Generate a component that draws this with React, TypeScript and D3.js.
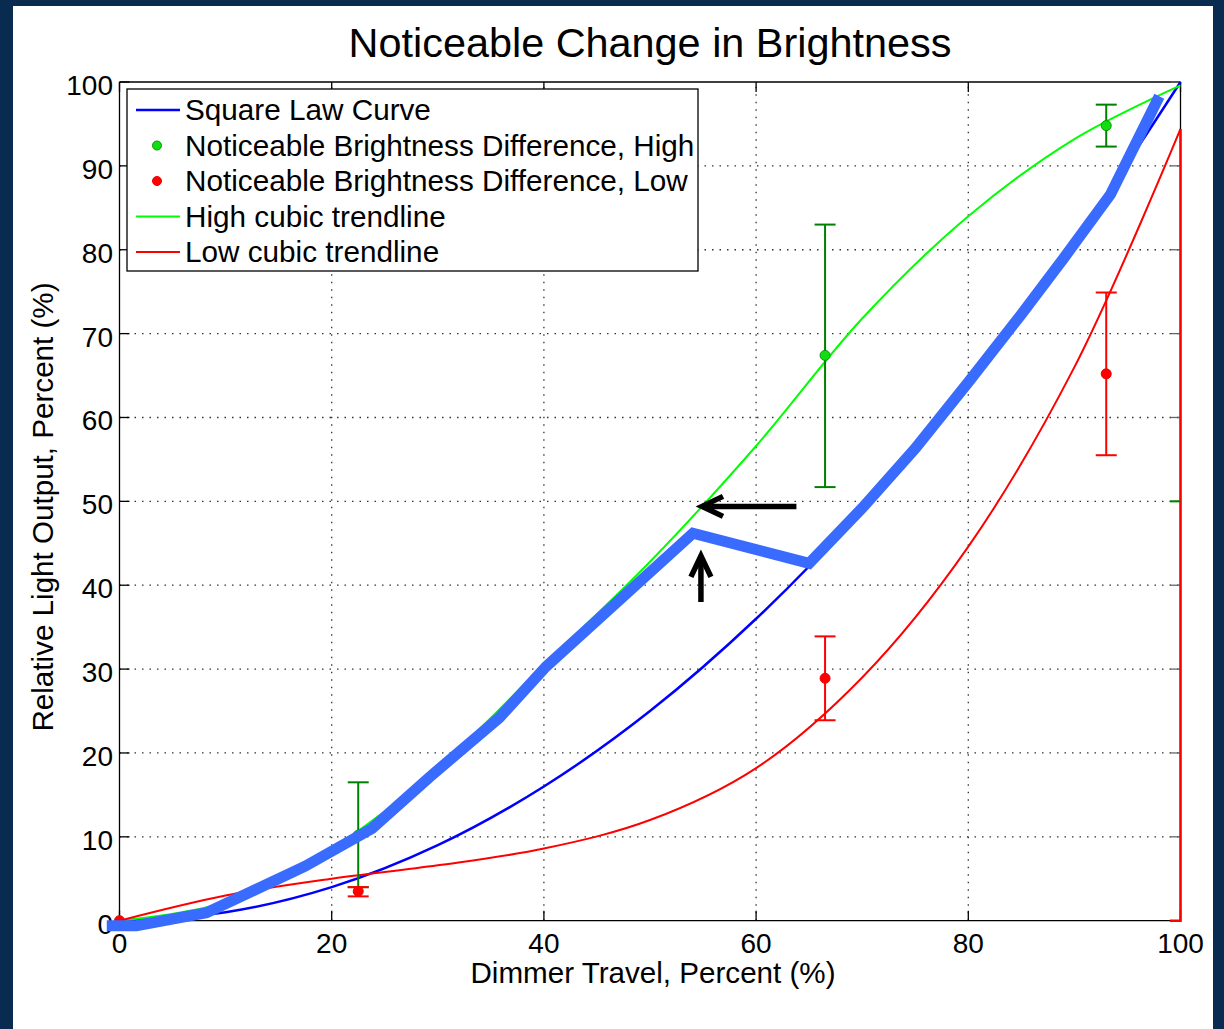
import React from "react";
import * as d3 from "d3";

const W = 1224;
const H = 1029;

const titleText = "Noticeable Change in Brightness";
const xLabel = "Dimmer Travel, Percent (%)";
const yLabel = "Relative Light Output, Percent (%)";

const xTicks = [0, 20, 40, 60, 80, 100];
const yTicks = [0, 10, 20, 30, 40, 50, 60, 70, 80, 90, 100];

const curveX = [0, 10, 20, 30, 40, 50, 60, 70, 80, 90, 100];
const squareLaw = [0, 1, 4, 9, 16, 25, 36, 49, 64, 81, 100];
const highTrend = [0, 2.2, 8.6, 18.2, 30.5, 42.8, 56.6, 71.8, 84.0, 93.2, 99.6];
const lowTrend = [0, 3.0, 5.0, 6.6, 8.6, 12.0, 18.2, 29.0, 44.6, 66.0, 94.4];
const lowTailX = [100, 100, 99];
const lowTailY = [94.4, 0, 0];

const highX = [22.5, 66.5, 93.0];
const highY = [10.2, 67.4, 94.8];
const highLo = [4.0, 51.7, 92.3];
const highHi = [16.5, 83.0, 97.3];

const lowX = [0, 22.5, 66.5, 93.0];
const lowY = [0, 3.5, 28.9, 65.2];
const lowLo = [0, 2.9, 23.9, 55.5];
const lowHi = [0, 4.0, 33.9, 74.9];

const annotX = [-1.2, 1.6, 8.2, 17.5, 23.8, 29.2, 35.8, 40.2, 54.05, 65.0, 70.0, 75.0, 80.0, 85.0, 89.0, 93.4, 98.0];
const annotY = [-0.6, -0.6, 0.95, 6.5, 11.0, 17.1, 24.2, 30.3, 46.2, 42.6, 49.2, 56.3, 64.2, 72.3, 79.0, 86.6, 98.3];

const arrowHX = [63.8, 54.9];
const arrowHY = [49.4, 49.4];
const arrowVX = [54.8, 54.8];
const arrowVY = [38.0, 43.5];

const legendLabels = [
  "Square Law Curve",
  "Noticeable Brightness Difference, High",
  "Noticeable Brightness Difference, Low",
  "High cubic trendline",
  "Low cubic trendline",
];

const FONT = "'Liberation Sans', Arial, Helvetica, sans-serif";

export default function App() {
  const x = d3.scaleLinear().domain([0, 100]).range([119.5, 1180.5]);
  const y = d3.scaleLinear().domain([0, 100]).range([920.7, 82]);

  const smooth = d3
    .line<[number, number]>()
    .x((d) => x(d[0]))
    .y((d) => y(d[1]))
    .curve(d3.curveCatmullRom.alpha(0.5));
  const straight = d3
    .line<[number, number]>()
    .x((d) => x(d[0]))
    .y((d) => y(d[1]));

  const zip = (xs: number[], ys: number[]) => xs.map((v, i) => [v, ys[i]] as [number, number]);

  const x0 = x(0), x1 = x(100), y0 = y(0), y1 = y(100);

  const arrowHead = (xs: number[], ys: number[]) => {
    const tx = x(xs[1]), ty = y(ys[1]);
    const fx = x(xs[0]), fy = y(ys[0]);
    const ang = Math.atan2(ty - fy, tx - fx);
    const back = 21, half = 10;
    const bx = tx - back * Math.cos(ang), by = ty - back * Math.sin(ang);
    const px = -Math.sin(ang) * half, py = Math.cos(ang) * half;
    return `M${bx + px},${by + py}L${tx},${ty}L${bx - px},${by - py}`;
  };

  const capW = 10.5;
  const legendRowY = [110, 145.5, 181, 216.5, 252];

  return (
    <svg
      width={W}
      height={H}
      style={{ position: "absolute", left: 0, top: 0, fontFamily: FONT }}
    >
      <rect x={0} y={0} width={W} height={H} fill="#082b4f" />
      <rect x={13} y={6} width={1200} height={H - 6} fill="#ffffff" />

      {/* grid */}
      <g stroke="#333" strokeWidth={1.3} strokeDasharray="1.5,6">
        {xTicks.slice(1, -1).map((t) => (
          <line key={"gx" + t} x1={x(t)} x2={x(t)} y1={y0} y2={y1} />
        ))}
        {yTicks.slice(1, -1).map((t) => (
          <line key={"gy" + t} x1={x0} x2={x1} y1={y(t)} y2={y(t)} />
        ))}
      </g>

      {/* axes box */}
      <g stroke="#000" strokeWidth={1.3} fill="none">
        <line x1={x0} x2={x1} y1={y0} y2={y0} />
        <line x1={x0} x2={x1} y1={y1} y2={y1} />
        <line x1={x0} x2={x0} y1={y0} y2={y1} />
        <line x1={x1} x2={x1} y1={y0} y2={y1} />
        {xTicks.map((t) => (
          <g key={"tx" + t}>
            <line x1={x(t)} x2={x(t)} y1={y0} y2={y0 - 10} />
            <line x1={x(t)} x2={x(t)} y1={y1} y2={y1 + 10} />
          </g>
        ))}
        {yTicks.map((t) => (
          <g key={"ty" + t}>
            <line x1={x0} x2={x0 + 10} y1={y(t)} y2={y(t)} />
            <line x1={x1} x2={x1 - 10} y1={y(t)} y2={y(t)} stroke="#666" />
          </g>
        ))}
      </g>

      {/* tick labels */}
      <g fontSize={28} fill="#000">
        {xTicks.map((t) => (
          <text key={"lx" + t} x={x(t)} y={953} textAnchor="middle">
            {t}
          </text>
        ))}
        {yTicks.map((t) => (
          <text key={"ly" + t} x={113} y={y(t) + 13} textAnchor="end">
            {t}
          </text>
        ))}
      </g>

      {/* curves */}
      <path d={smooth(zip(curveX, squareLaw)) || ""} fill="none" stroke="#0000ff" strokeWidth={2.5} />
      <path d={smooth(zip(curveX, highTrend)) || ""} fill="none" stroke="#00ff00" strokeWidth={2} />
      <path d={smooth(zip(curveX, lowTrend)) || ""} fill="none" stroke="#ff0000" strokeWidth={2} />
      <path d={straight(zip(lowTailX, lowTailY)) || ""} fill="none" stroke="#ff0000" strokeWidth={2.5} />
      <line x1={x(99)} x2={x(100)} y1={y(50)} y2={y(50)} stroke="#008000" strokeWidth={2} />

      {/* high error bars */}
      <g stroke="#008000" strokeWidth={2}>
        {highX.map((v, i) => (
          <g key={"hb" + i}>
            <line x1={x(v)} x2={x(v)} y1={y(highLo[i])} y2={y(highHi[i])} />
            <line x1={x(v) - capW} x2={x(v) + capW} y1={y(highLo[i])} y2={y(highLo[i])} />
            <line x1={x(v) - capW} x2={x(v) + capW} y1={y(highHi[i])} y2={y(highHi[i])} />
          </g>
        ))}
      </g>
      {highX.map((v, i) => (
        <circle key={"hp" + i} cx={x(v)} cy={y(highY[i])} r={5} fill="#11dd11" stroke="#009900" strokeWidth={1} />
      ))}

      {/* low error bars */}
      <g stroke="#ff0000" strokeWidth={2}>
        {lowX.map((v, i) =>
          lowHi[i] > lowLo[i] ? (
            <g key={"lb" + i}>
              <line x1={x(v)} x2={x(v)} y1={y(lowLo[i])} y2={y(lowHi[i])} />
              <line x1={x(v) - capW} x2={x(v) + capW} y1={y(lowLo[i])} y2={y(lowLo[i])} />
              <line x1={x(v) - capW} x2={x(v) + capW} y1={y(lowHi[i])} y2={y(lowHi[i])} />
            </g>
          ) : null
        )}
      </g>
      {lowX.map((v, i) => (
        <circle key={"lp" + i} cx={x(v)} cy={y(lowY[i])} r={5} fill="#ff0000" stroke="#ee0000" strokeWidth={1} />
      ))}

      {/* thick annotation */}
      <path
        d={straight(zip(annotX, annotY)) || ""}
        fill="none"
        stroke="#3a6bff"
        strokeWidth={11}
        strokeLinejoin="miter"
        strokeLinecap="butt"
      />

      {/* arrows */}
      <g stroke="#000" strokeWidth={5.5} fill="none">
        <path d={straight(zip(arrowHX, arrowHY)) || ""} />
        <path d={arrowHead(arrowHX, arrowHY)} strokeLinejoin="miter" />
        <path d={straight(zip(arrowVX, arrowVY)) || ""} />
        <path d={arrowHead(arrowVX, arrowVY)} strokeLinejoin="miter" />
      </g>

      {/* legend */}
      <g>
        <rect x={127} y={89} width={571} height={182} fill="#fff" stroke="#000" strokeWidth={1.3} />
        <line x1={136} x2={180} y1={legendRowY[0]} y2={legendRowY[0]} stroke="#0000ff" strokeWidth={2.5} />
        <circle cx={157} cy={legendRowY[1]} r={4.5} fill="#11dd11" stroke="#009900" strokeWidth={1} />
        <circle cx={157} cy={legendRowY[2]} r={4.5} fill="#ff0000" stroke="#ee0000" strokeWidth={1} />
        <line x1={136} x2={180} y1={legendRowY[3]} y2={legendRowY[3]} stroke="#00ff00" strokeWidth={2} />
        <line x1={136} x2={180} y1={legendRowY[4]} y2={legendRowY[4]} stroke="#ff0000" strokeWidth={2} />
        {legendLabels.map((l, i) => (
          <text key={l} x={185} y={legendRowY[i] + 10} fontSize={29.7} fill="#000">
            {l}
          </text>
        ))}
      </g>

      {/* titles */}
      <text x={650} y={57} textAnchor="middle" fontSize={41.4} fill="#000">
        {titleText}
      </text>
      <text x={653} y={983} textAnchor="middle" fontSize={29.6} fill="#000">
        {xLabel}
      </text>
      <text
        transform={`translate(53,507) rotate(-90)`}
        textAnchor="middle"
        fontSize={29.6}
        fill="#000"
      >
        {yLabel}
      </text>
    </svg>
  );
}
